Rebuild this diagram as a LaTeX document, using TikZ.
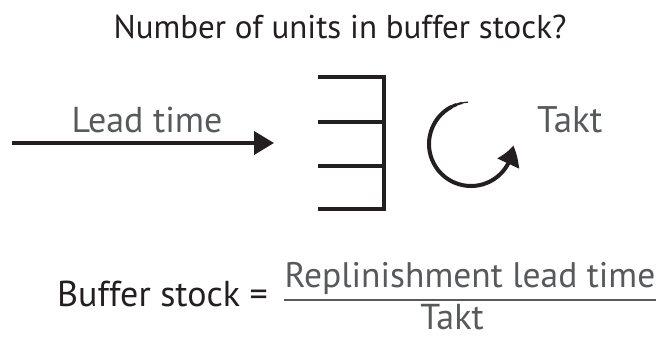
\documentclass[tikz,border=0pt]{standalone}
\usepackage{fontspec}
\setmainfont{PT Sans}
\usetikzlibrary{arrows.meta, bending}
\definecolor{inkdark}{HTML}{231F20}
\definecolor{inkgray}{HTML}{58595B}

\begin{document}
\begin{tikzpicture}[x=1pt,y=1pt,titletext/.style={font=\fontsize{33}{40}\selectfont,text=inkdark,inner sep=0pt},graytext/.style={font=\fontsize{36}{42}\selectfont,text=inkgray,inner sep=0pt},eqtext/.style={font=\fontsize{36}{42}\selectfont,text=inkdark,inner sep=0pt},arrow/.style={line width=4pt,draw=inkdark,-{Triangle[length=20pt,width=23pt]}},cyclearrow/.style={line width=4pt,draw=inkdark,-{Triangle[bend,length=19pt,width=23pt]}},shelf/.style={line width=4pt,draw=inkdark}]
\useasboundingbox (0,0) rectangle (656,-338);
\node[titletext, anchor=base] (question) at (340,-38) {Number of units in buffer stock?};
% lead time arrow
\coordinate (leadstart) at (12,-143);\coordinate (leadend) at (274,-143);
\draw[arrow] (leadstart) -- (leadend);
\node[graytext, anchor=base] (lead) at (147,-132) {Lead time};
% buffer shelf
\draw[shelf] (318,-77) -| (384,-209) -- (318,-209);
\foreach \y in {122,166} \draw[shelf] (318,-\y) -- (384,-\y);
% takt cycle
\coordinate (cycle) at (471,-144);
\foreach \a/\w in {94/1.2,102/2.2,110/3.2} \draw[line width=\w pt,draw=inkdark] (cycle) ++(\a:42) arc[start angle=\a,delta angle=9,radius=42];
\draw[cyclearrow] (cycle) ++(118:42) arc[start angle=118,end angle=358,radius=42];
\node[graytext, anchor=base west, font=\fontsize{37}{42}\selectfont] (takt) at (537,-132) {Takt};
% formula
\node[eqtext, anchor=base west] (buffer) at (57,-306) {Buffer stock =};
\node[graytext, anchor=base, font=\fontsize{35.5}{42}\selectfont] (num) at (470,-287) {Replinishment lead time};
\node[graytext, anchor=base, font=\fontsize{36}{42}\selectfont] (den) at (452,-329) {Takt};
\draw[line width=2.2pt,draw=inkgray] (num.south west |- 0,-300) -- (num.south east |- 0,-300);
\end{tikzpicture}
\end{document}
